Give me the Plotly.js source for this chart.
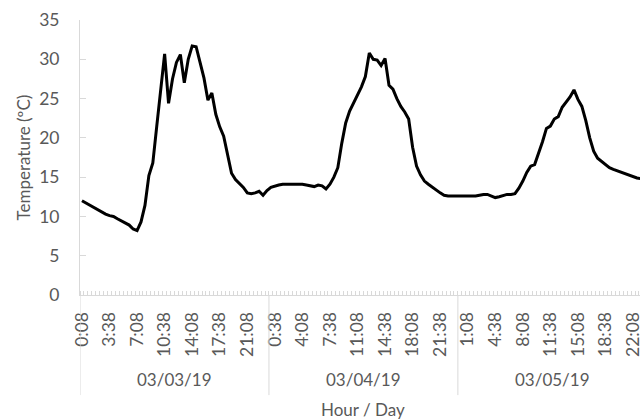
<!DOCTYPE html>
<html>
<head>
<meta charset="utf-8">
<script src="https://cdn.plot.ly/plotly-3.0.1.min.js"></script>
<style>
html, body { margin: 0; padding: 0; background: #ffffff; overflow: hidden; }
#chart { width: 640px; height: 420px; }
</style>
</head>
<body>
<div id="chart"></div>
<script>
// Day labels (outer category level)
var days = ['03/03/19', '03/04/19', '03/05/19'];

// Hour tick labels shown on the axis (every 7th half-hour reading)
var hourTicks = ['0:08', '3:38', '7:08', '10:38', '14:08', '17:38', '21:08',
                 '0:38', '4:08', '7:38', '11:08', '14:38', '18:08', '21:38',
                 '1:08', '4:38', '8:08', '11:38', '15:08', '18:38', '22:08'];

// Temperature readings (ºC), half-hourly, one array per day
var day1Temp = [12.0, 11.7, 11.5, 11.2, 10.9, 10.6, 10.3, 10.1, 10.0, 9.7,
                9.4, 9.1, 8.9, 8.4, 8.2, 9.3, 11.4, 15.2, 16.8, 21.5,
                26.2, 30.7, 24.4, 27.5, 29.6, 30.6, 27.0, 30.0, 31.7, 31.6,
                29.6, 27.6, 24.8, 25.7, 23.0, 21.4, 20.2, 17.8, 15.5, 14.7,
                14.2, 13.7, 13.0, 12.9, 13.0, 13.2, 12.7, 13.3];
var day2Temp = [13.7, 13.9, 14.0, 14.1, 14.1, 14.1, 14.1, 14.1, 14.1, 14.0,
                13.9, 13.8, 14.0, 13.9, 13.5, 14.1, 15.0, 16.2, 19.3, 21.9,
                23.4, 24.4, 25.3, 26.5, 27.8, 30.8, 30.0, 29.9, 29.2, 30.1,
                26.7, 26.2, 25.0, 24.0, 23.3, 22.4, 18.8, 16.4, 15.3, 14.5,
                14.1, 13.7, 13.3, 13.0, 12.7, 12.6, 12.6, 12.6];
var day3Temp = [12.6, 12.6, 12.6, 12.6, 12.6, 12.7, 12.8, 12.8, 12.6, 12.4,
                12.5, 12.7, 12.8, 12.8, 12.9, 13.6, 14.5, 15.6, 16.4, 16.6,
                18.0, 19.5, 21.2, 21.5, 22.4, 22.7, 23.9, 24.6, 25.2, 26.1,
                24.9, 24.0, 22.2, 20.0, 18.3, 17.4, 17.0, 16.6, 16.2, 16.0,
                15.8, 15.7, 15.4, 15.2, 15.0, 14.9, 14.8, 14.6];

var temps = day1Temp.concat(day2Temp, day3Temp);
var xIdx = temps.map(function (_, i) { return i; });
var perDay = day1Temp.length;
var tickStep = 7;
var tickPos = hourTicks.map(function (_, k) { return k * tickStep; });

var gray = '#595959';
var axisGray = '#d9d9d9';
var fontFam = 'Lato, "Open Sans", sans-serif';

var annotations = days.map(function (d, k) {
  return {
    text: d, xref: 'x', yref: 'paper',
    x: k * perDay + (perDay - 1) / 2, y: -0.309,
    xanchor: 'center', yanchor: 'middle', showarrow: false,
    font: { family: fontFam, size: 17, color: gray }
  };
});
annotations.push({
  text: 'Hour / Day', xref: 'x', yref: 'paper',
  x: (temps.length - 1) / 2, y: -0.415,
  xanchor: 'center', yanchor: 'middle', showarrow: false,
  font: { family: fontFam, size: 17, color: gray }
});
annotations.push({
  text: 'Temperature (ºC)', xref: 'paper', yref: 'paper',
  x: -57 / 560, y: 0.5, textangle: -90,
  xanchor: 'center', yanchor: 'middle', showarrow: false,
  font: { family: fontFam, size: 17, color: gray }
});

var shapes = days.map(function (d, k) {
  return {
    type: 'line', xref: 'x', yref: 'paper',
    x0: k * perDay - 0.5, x1: k * perDay - 0.5,
    y0: 0, y1: -0.364,
    line: { color: axisGray, width: 1 }
  };
});

var trace = {
  x: xIdx, y: temps, type: 'scatter', mode: 'lines',
  line: { color: '#000000', width: 3 },
  hoverinfo: 'skip'
};

var layout = {
  width: 640, height: 420,
  margin: { l: 80, r: 0, t: 20, b: 125, pad: 0 },
  paper_bgcolor: '#ffffff', plot_bgcolor: '#ffffff',
  showlegend: false,
  font: { family: fontFam, size: 17, color: gray },
  xaxis: {
    type: 'linear',
    range: [-0.5, 141.77],
    tickmode: 'array', tickvals: tickPos, ticktext: hourTicks,
    tickangle: -90, ticks: '',
    ticklabelstandoff: 9,
    ticklabeloverflow: 'allow',
    tickfont: { family: fontFam, size: 17.5, color: gray },
    showgrid: false, zeroline: false,
    showline: true, linecolor: axisGray, linewidth: 1,
    minor: { tickmode: 'linear', tick0: -0.5, dtick: 1, ticks: 'inside', ticklen: 4, tickcolor: axisGray, showgrid: false },
    fixedrange: true
  },
  yaxis: {
    range: [0, 35], tickmode: 'linear', tick0: 0, dtick: 5,
    ticks: 'inside', ticklen: 6, tickcolor: axisGray,
    ticklabelstandoff: 16,
    tickfont: { family: fontFam, size: 17.5, color: gray },
    showgrid: false, zeroline: false,
    showline: true, linecolor: axisGray, linewidth: 1,
    fixedrange: true
  },
  annotations: annotations,
  shapes: shapes
};

Plotly.newPlot('chart', [trace], layout, { staticPlot: true, displayModeBar: false });
</script>
</body>
</html>
